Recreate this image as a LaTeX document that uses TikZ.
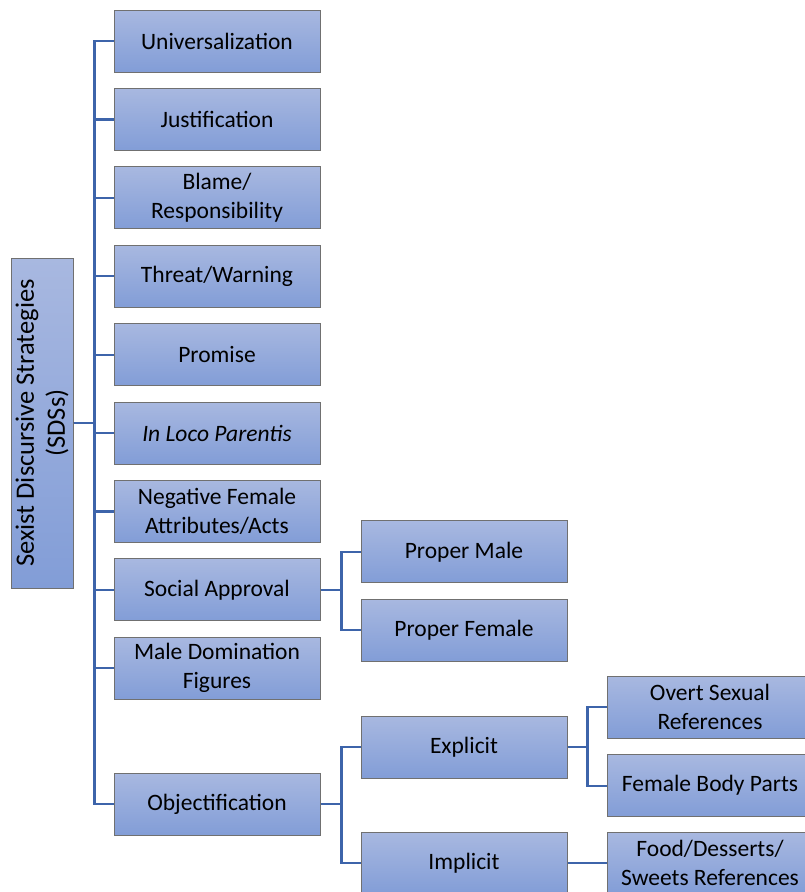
\documentclass[tikz,border=0pt]{standalone}
\usepackage{fontspec}
\setmainfont{Carlito}
\usepackage{tikz}
\usetikzlibrary{positioning}
\usepackage{xcolor}
\definecolor{boxtop}{RGB}{168,184,224}
\definecolor{boxbot}{RGB}{130,157,215}
\definecolor{boxline}{RGB}{112,112,112}
\definecolor{linkcol}{RGB}{61,100,170}

\begin{document}
\begin{tikzpicture}[x=1pt, y=-1pt,
  main/.style = {draw=boxline, line width=1pt, top color=boxtop, bottom color=boxbot,
    minimum width=206pt, minimum height=62pt, inner sep=0pt, align=center,
    font=\fontsize{23.5}{29}\selectfont},
  link/.style = {draw=linkcol, line width=2.2pt}]
\useasboundingbox (0,0) rectangle (805,892);

\node[main, rotate=90, minimum width=330pt, font=\fontsize{26.5}{31}\selectfont] (0) at (42,423) {Sexist Discursive Strategies\\(SDSs)};

\node[main] (1) at (217,41) {Universalization};
\node[main] (2) [below=15.4pt of 1] {Justification};
\node[main] (3) [below=15.4pt of 2] {Blame/\\Responsibility};
\node[main] (4) [below=15.4pt of 3] {Threat/Warning};
\node[main] (5) [below=15.4pt of 4] {Promise};
\node[main] (6) [below=15.4pt of 5] {\itshape In Loco Parentis};
\node[main] (7) [below=15.4pt of 6] {Negative Female\\Attributes/Acts};
\node[main] (8) [below=15.4pt of 7] {Social Approval};
\node[main] (9) [below=15.4pt of 8] {Male Domination\\Figures};
\node[main] (10) [below=73pt of 9] {Objectification};

\node[main] (11) [right=40pt of 8, yshift=38pt] {Proper Male};
\node[main] (12) [below=15.4pt of 11] {Proper Female};
\node[main] (13) [right=40pt of 10, yshift=57pt] {Explicit};
\node[main] (14) [below=53pt of 13] {Implicit};
\node[main] (15) [right=39pt of 13, yshift=40pt] {Overt Sexual\\References};
\node[main] (16) [below=15.4pt of 15] {Female Body Parts};
\node[main] (17) [right=39pt of 14] {Food/Desserts/\\Sweets References};

\draw[link] (0.south) -- ++(21pt,0) |- (1.west);
\draw[link] (0.south) -- ++(21pt,0) |- (2.west);
\draw[link] (0.south) -- ++(21pt,0) |- (3.west);
\draw[link] (0.south) -- ++(21pt,0) |- (4.west);
\draw[link] (0.south) -- ++(21pt,0) |- (5.west);
\draw[link] (0.south) -- ++(21pt,0) |- (6.west);
\draw[link] (0.south) -- ++(21pt,0) |- (7.west);
\draw[link] (0.south) -- ++(21pt,0) |- (8.west);
\draw[link] (0.south) -- ++(21pt,0) |- (9.west);
\draw[link] (0.south) -- ++(21pt,0) |- (10.west);

\draw[link] (8.east) -- ++(21pt,0) |- (11.west);
\draw[link] (8.east) -- ++(21pt,0) |- (12.west);
\draw[link] (10.east) -- ++(21pt,0) |- (13.west);
\draw[link] (10.east) -- ++(21pt,0) |- (14.west);
\draw[link] (13.east) -- ++(20pt,0) |- (15.west);
\draw[link] (13.east) -- ++(20pt,0) |- (16.west);
\draw[link] (14.east) -- (17.west);
\end{tikzpicture}
\end{document}
